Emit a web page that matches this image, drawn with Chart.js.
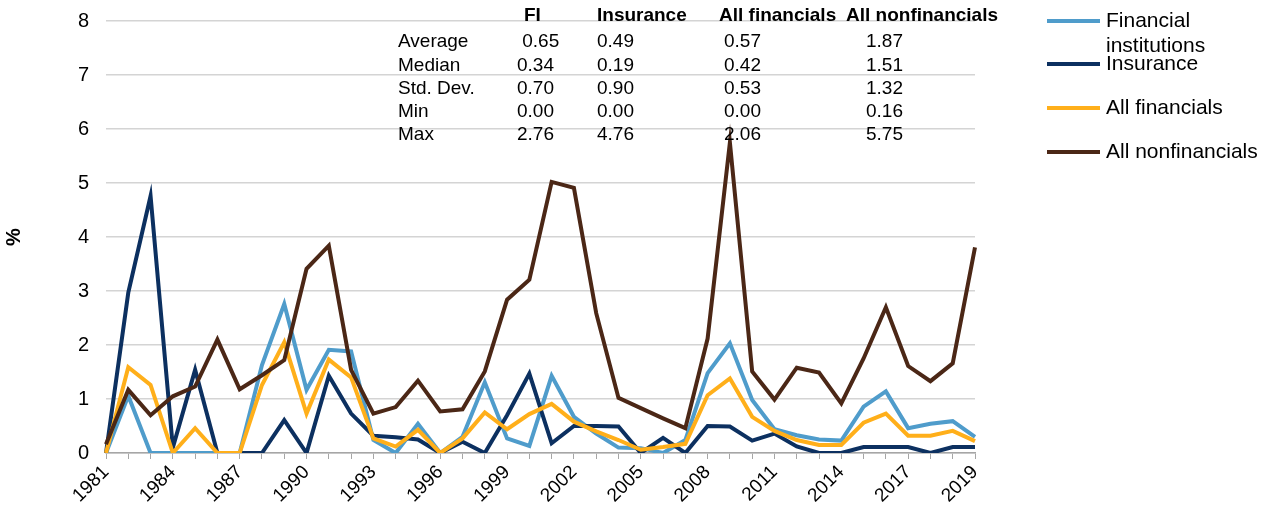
<!DOCTYPE html>
<html>
<head>
<meta charset="utf-8">
<script src="https://cdn.jsdelivr.net/npm/chart.js@4.4.1/dist/chart.umd.min.js"></script>
<style>
  html, body { margin: 0; padding: 0; background: #fff; }
  #wrap { width: 1262px; height: 510px; }
</style>
</head>
<body>
<div id="wrap"><canvas id="chart" width="1262" height="510"></canvas></div>
<script>
// Category labels (one per data point)
const years = ['1981','1982','1983','1984','1985','1986','1987','1988','1989','1990',
  '1991','1992','1993','1994','1995','1996','1997','1998','1999','2000',
  '2001','2002','2003','2004','2005','2006','2007','2008','2009','2010',
  '2011','2012','2013','2014','2015','2016','2017','2018','2018','2019'];

// Series values, %
const fiValues = [0, 1.06, 0, 0, 0, 0, 0, 1.63, 2.76, 1.17, 1.91, 1.88, 0.24, 0, 0.54, 0, 0.3, 1.31, 0.27, 0.13,
  1.43, 0.67, 0.36, 0.1, 0.09, 0, 0.24, 1.48, 2.03, 0.98, 0.44, 0.33, 0.25, 0.23, 0.86, 1.14, 0.46, 0.54, 0.59, 0.3];
const insuranceValues = [0, 2.97, 4.76, 0.1, 1.54, 0, 0, 0, 0.61, 0, 1.43, 0.73, 0.32, 0.29, 0.25, 0, 0.21, 0, 0.7, 1.47,
  0.18, 0.5, 0.5, 0.49, 0, 0.28, 0, 0.5, 0.49, 0.23, 0.36, 0.12, 0, 0, 0.11, 0.11, 0.11, 0, 0.11, 0.11];
const allFinValues = [0, 1.59, 1.26, 0, 0.46, 0, 0, 1.26, 2.05, 0.73, 1.73, 1.4, 0.27, 0.12, 0.43, 0, 0.27, 0.75, 0.44, 0.72,
  0.91, 0.58, 0.4, 0.24, 0.06, 0.11, 0.17, 1.07, 1.38, 0.67, 0.41, 0.24, 0.15, 0.15, 0.56, 0.73, 0.32, 0.32, 0.41, 0.22];
const nonFinValues = [0.16, 1.17, 0.7, 1.05, 1.23, 2.1, 1.18, 1.44, 1.72, 3.41, 3.84, 1.54, 0.73, 0.85, 1.34, 0.77, 0.81, 1.51, 2.84, 3.21,
  5.02, 4.91, 2.59, 1.02, 0.83, 0.64, 0.46, 2.12, 5.75, 1.51, 0.99, 1.58, 1.49, 0.92, 1.75, 2.7, 1.61, 1.33, 1.66, 3.81];

// Summary table
const statHeaders = ['FI', 'Insurance', 'All financials', 'All nonfinancials'];
const statRows = ['Average', 'Median', 'Std. Dev.', 'Min', 'Max'];
const fiStats = [' 0.65', '0.34', '0.70', '0.00', '2.76'];
const insuranceStats = ['0.49', '0.19', '0.90', '0.00', '4.76'];
const allFinStats = ['0.57', '0.42', '0.53', '0.00', '2.06'];
const nonFinStats = ['1.87', '1.51', '1.32', '0.16', '5.75'];

const FONT = "'Liberation Sans', Arial, sans-serif";

// Draws the stats table and the legend on the canvas
const overlayPlugin = {
  id: 'overlay',
  afterDraw(chart) {
    const ctx = chart.ctx;
    ctx.save();
    ctx.fillStyle = '#000';
    ctx.textBaseline = 'middle';
    ctx.textAlign = 'left';

    // table header
    ctx.font = 'bold 19px ' + FONT;
    const headX = [524, 597, 719, 846];
    statHeaders.forEach((h, i) => ctx.fillText(h, headX[i], 16));

    // table rows
    ctx.font = '19px ' + FONT;
    const cols = [fiStats, insuranceStats, allFinStats, nonFinStats];
    const colX = [517, 597, 724, 866];
    statRows.forEach((r, i) => {
      const y = 42 + i * 23.3;
      ctx.fillText(r, 398, y);
      cols.forEach((c, j) => ctx.fillText(c[i], colX[j], y));
    });

    // legend
    const legendY = [21, 64, 108, 152];
    ctx.font = '21px ' + FONT;
    chart.data.datasets.forEach((ds, i) => {
      const y = legendY[i];
      ctx.strokeStyle = ds.borderColor;
      ctx.lineWidth = 4;
      ctx.beginPath();
      ctx.moveTo(1047, y);
      ctx.lineTo(1100, y);
      ctx.stroke();
      ds.legendLines.forEach((t, k) => ctx.fillText(t, 1106, y + k * 25));
    });
    ctx.restore();
  }
};

const ctx = document.getElementById('chart').getContext('2d');
new Chart(ctx, {
  type: 'line',
  data: {
    labels: years,
    datasets: [{
      label: 'Financial institutions',
      legendLines: ['Financial', 'institutions'],
      data: fiValues,
      borderColor: '#4f9ccb',
      order: 4
    }, {
      label: 'Insurance',
      legendLines: ['Insurance'],
      data: insuranceValues,
      borderColor: '#0c3060',
      order: 3
    }, {
      label: 'All financials',
      legendLines: ['All financials'],
      data: allFinValues,
      borderColor: '#ffaf1a',
      order: 2
    }, {
      label: 'All nonfinancials',
      legendLines: ['All nonfinancials'],
      data: nonFinValues,
      borderColor: '#4b2716',
      order: 1
    }]
  },
  options: {
    responsive: false,
    animation: false,
    devicePixelRatio: 1,
    layout: { padding: { left: 0, top: 21, right: 287, bottom: 0 } },
    elements: {
      line: { borderWidth: 4, tension: 0 },
      point: { radius: 0 }
    },
    plugins: {
      legend: { display: false },
      tooltip: { enabled: false }
    },
    scales: {
      x: {
        offset: false,
        afterFit: (scale) => { scale.height = 57; },
        grid: { drawOnChartArea: false, drawTicks: true, tickLength: 6, color: '#a6a6a6', lineWidth: 1 },
        border: { display: true, color: '#a6a6a6', width: 1.5 },
        ticks: {
          autoSkip: false,
          minRotation: 45,
          maxRotation: 45,
          padding: 2,
          color: '#000',
          font: { family: FONT, size: 19 },
          callback: function (value, index) {
            if (index % 3 === 0 || index === years.length - 1) return years[index];
            return '';
          }
        }
      },
      y: {
        min: 0,
        max: 8,
        afterFit: (scale) => {
          scale.width = 106;
          scale.paddingTop = 0;
          scale.paddingBottom = 0;
        },
        grid: { color: '#d4d4d4', lineWidth: 1.5, drawTicks: false },
        border: { display: false },
        ticks: {
          stepSize: 1,
          padding: 17,
          color: '#000',
          font: { family: FONT, size: 20 }
        },
        title: {
          display: true,
          text: '%',
          color: '#000',
          padding: { top: 2, bottom: 0 },
          font: { family: FONT, size: 20, weight: 'bold' }
        }
      }
    }
  },
  plugins: [overlayPlugin]
});
</script>
</body>
</html>
